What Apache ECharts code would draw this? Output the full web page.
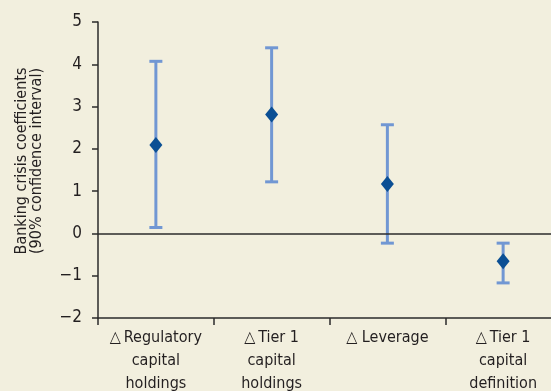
<!DOCTYPE html>
<html>
<head>
<meta charset="utf-8">
<script src="https://cdn.jsdelivr.net/npm/echarts@6/dist/echarts.min.js"></script>
<style>
  html, body { margin: 0; padding: 0; background: #F2EFDE; overflow: hidden; }
  #chart { width: 551px; height: 391px; }
</style>
</head>
<body>
<div id="chart"></div>
<script>
// Banking crisis coefficients with 90% confidence intervals
const categories = [
  '\u25B3\u2009Regulatory\ncapital\nholdings',
  '\u25B3\u2009Tier 1\ncapital\nholdings',
  '\u25B3 Leverage',
  '\u25B3\u2009Tier 1\ncapital\ndefinition'
];
const coefficients = [2.09, 2.81, 1.17, -0.66];
const lowerBounds = [0.14, 1.22, -0.23, -1.17];
const upperBounds = [4.07, 4.39, 2.57, -0.23];
const yTicks = { min: -2, max: 5, interval: 1 };

const FONT = '"Liberation Sans Narrow", "DejaVu Sans Condensed", "Roboto", sans-serif';
const TEXT = '#231F20';
const AXIS = '#2b2b2b';
const BAR_COLOR = '#7197D3';
const POINT_COLOR = '#0B4F94';

const intervals = categories.map((c, i) => [i, lowerBounds[i], upperBounds[i]]);

const chart = echarts.init(document.getElementById('chart'));
chart.setOption({
  backgroundColor: '#F2EFDE',
  animation: false,
  // the last category runs a little past the right edge of the canvas
  grid: { left: 98, top: 22, width: 463, height: 296, outerBoundsMode: 'none', containLabel: false },
  xAxis: {
    type: 'category',
    data: categories,
    boundaryGap: true,
    axisLine: { onZero: false, lineStyle: { color: AXIS, width: 1.5 } },
    axisTick: { show: true, length: 7, alignWithLabel: false, lineStyle: { color: AXIS, width: 1.5 } },
    axisLabel: {
      color: TEXT, fontFamily: FONT, fontSize: 16, lineHeight: 23,
      margin: 8, interval: 0, align: 'center'
    },
    splitLine: { show: false }
  },
  yAxis: {
    type: 'value',
    min: yTicks.min, max: yTicks.max, interval: yTicks.interval,
    name: 'Banking crisis coefficients\n(90% confidence interval)',
    nameLocation: 'middle',
    nameGap: 54,
    nameTextStyle: {
      color: TEXT, fontFamily: FONT, fontSize: 16, lineHeight: 15,
      padding: [0, 0, 0, 18]
    },
    axisLine: { show: true, lineStyle: { color: AXIS, width: 1.5 } },
    axisTick: { show: true, length: 6, lineStyle: { color: AXIS, width: 1.5 } },
    axisLabel: {
      color: TEXT, fontFamily: FONT, fontSize: 17, margin: 16,
      formatter: v => (v < 0 ? '\u2212' + Math.abs(v) : String(v))
    },
    splitLine: { show: false }
  },
  series: [
    {
      type: 'custom',
      data: intervals,
      z: 2,
      renderItem: function (params, api) {
        const x = api.value(0);
        const lo = api.coord([x, api.value(1)]);
        const hi = api.coord([x, api.value(2)]);
        const half = 6.5;
        const style = { stroke: BAR_COLOR, lineWidth: 3 };
        return {
          type: 'group',
          children: [
            { type: 'line', shape: { x1: lo[0], y1: lo[1], x2: hi[0], y2: hi[1] }, style: style },
            { type: 'line', shape: { x1: hi[0] - half, y1: hi[1], x2: hi[0] + half, y2: hi[1] }, style: style },
            { type: 'line', shape: { x1: lo[0] - half, y1: lo[1], x2: lo[0] + half, y2: lo[1] }, style: style }
          ]
        };
      },
      markLine: {
        silent: true,
        symbol: 'none',
        label: { show: false },
        lineStyle: { color: AXIS, width: 1.5, type: 'solid' },
        data: [{ yAxis: 0 }]
      }
    },
    {
      type: 'scatter',
      data: coefficients,
      z: 3,
      symbol: 'diamond',
      symbolSize: [13, 16],
      itemStyle: { color: POINT_COLOR, opacity: 1 }
    }
  ]
});
</script>
</body>
</html>
